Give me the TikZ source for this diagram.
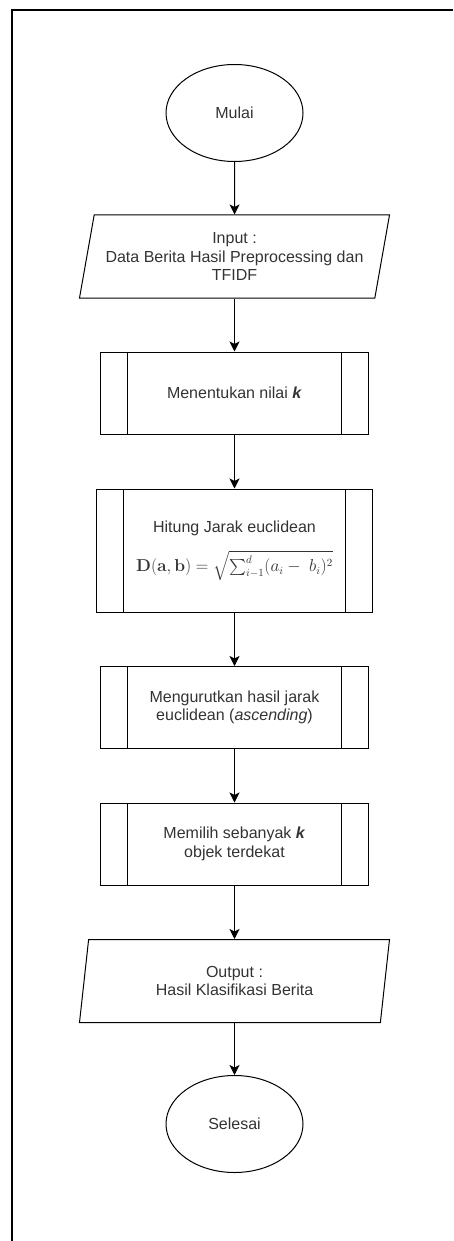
\documentclass[tikz,border=0pt]{standalone}
\usepackage{amsmath,amssymb}
\usepackage[no-math]{fontspec}
\setmainfont{Liberation Sans}
\usetikzlibrary{shapes.geometric,arrows.meta}

\begin{document}
\begin{tikzpicture}[x=1pt, y=-1pt,
	every node/.style={font=\fontsize{16}{18.5}\selectfont, text=black!80, align=center, line width=1pt},
	startstop/.style={draw, ellipse, minimum width=137pt, minimum height=97pt, inner sep=0pt},
	datablock/.style={draw, trapezium, trapezium left angle=73, trapezium right angle=107, trapezium stretches body, minimum width=310pt, minimum height=83pt, inner sep=0pt},
	procbox/.style={draw, rectangle, minimum width=268pt, minimum height=82pt, inner sep=0pt,
		path picture={\draw[line width=1pt] ([xshift=27pt]path picture bounding box.north west) -- ([xshift=27pt]path picture bounding box.south west);
			\draw[line width=1pt] ([xshift=-27pt]path picture bounding box.north east) -- ([xshift=-27pt]path picture bounding box.south east);}},
	arr/.style={line width=1pt, -{Stealth[length=10pt, width=10pt, inset=2.5pt]}}]
	\useasboundingbox (0,0) rectangle (453,1241);
	\draw[line width=2pt] (12,1241) -- (12,10) -- (453,10);
	\node[startstop] (mulai) at (234.5,113) {Mulai};
	\node[datablock] (input) at (234.5,256.5) {Input :\\Data Berita Hasil Preprocessing dan\\TFIDF};
	\node[procbox] (nilaik) at (234.5,393) {Menentukan nilai \textbf{\textit{k}}};
	\node[procbox, minimum width=276pt, minimum height=123pt] (jarak) at (234.5,550.5) {Hitung Jarak euclidean\\[14pt] $\mathbf{D(a, b)} = \sqrt{\sum_{i-1}^{d}(a_i -\ b_i)^2}$};
	\node[procbox] (urut) at (234.5,707.5) {Mengurutkan hasil jarak\\euclidean (\textit{ascending})};
	\node[procbox] (pilih) at (234.5,844) {Memilih sebanyak \textbf{\textit{k}}\\objek terdekat};
	\node[datablock] (output) at (234.5,981) {Output :\\Hasil Klasifikasi Berita};
	\node[startstop] (selesai) at (234.5,1124) {Selesai};
	\foreach \a/\b in {mulai/input, input/nilaik, nilaik/jarak, jarak/urut, urut/pilih, pilih/output, output/selesai} {
		\draw[arr] (\a) -- (\b);
	}
\end{tikzpicture}
\end{document}
